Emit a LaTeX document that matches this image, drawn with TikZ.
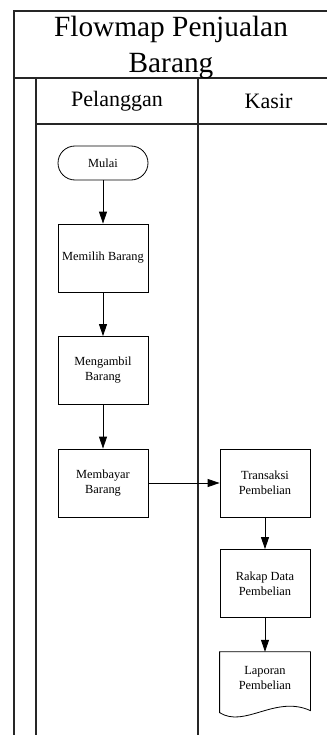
\documentclass[tikz,border=0pt]{standalone}
\usepackage{fontspec}
\setmainfont{Liberation Serif}
\usetikzlibrary{arrows.meta,calc}
\begin{document}
\begin{tikzpicture}[x=0.75pt,y=-0.75pt,
  lane/.style={line width=1.1pt, draw=black!85},
  proc/.style={draw, line width=0.6pt, minimum width=67.5pt, minimum height=51pt,
    inner sep=1pt, align=center, font=\fontsize{9.3}{11.25}\selectfont},
  term/.style={proc, minimum height=25.5pt, rounded corners=12.75pt},
  docbox/.style={proc, draw=none, minimum height=38.25pt},
  flow/.style={-{Triangle[length=9pt,width=6pt]}, line width=0.6pt},
  lanehead/.style={font=\fontsize{16.5}{19}\selectfont, inner sep=0pt},
  titletext/.style={font=\fontsize{22}{26.3}\selectfont, align=center, inner sep=0pt}]
\useasboundingbox (0,0) rectangle (327,735);
\clip (0,0) rectangle (327,735);

% swimlane frame
\draw[lane] (14,745) -- (14,11) -- (345,11);
\draw[lane] (14,78) -- (345,78);
\draw[lane] (36,745) -- (36,78);
\draw[lane] (36,124) -- (345,124);
\draw[lane] (198,745) -- (198,78);

% titles
\node[titletext] (title) at (171,47.5) {Flowmap Penjualan\\Barang};
\node[lanehead] (hpel) at (117,101) {Pelanggan};
\node[lanehead] (hkas) at (268.5,101) {Kasir};

% Pelanggan lane
\node[term] (mulai) at (103,163) {Mulai};
\node[proc] (pilih) at (103,258) {Memilih Barang};
\node[proc] (ambil) at (103,370.5) {Mengambil\\Barang};
\node[proc] (bayar) at (103,483) {Membayar\\Barang};

% Kasir lane
\node[proc] (trans) at (265,483) {Transaksi\\Pembelian};
\node[proc] (rekap) at (265,583.5) {Rakap Data\\Pembelian};
\node[docbox] (lapor) at (265,677.7) {Laporan\\Pembelian};
\draw[line width=0.6pt] (lapor.north west) -- (lapor.north east)
  -- ($(lapor.south east)+(0,7)$)
  .. controls ($(lapor.south east)+(-35,-9)$) and ($(lapor.south west)+(25,25)$)
  .. ($(lapor.south west)+(0,9)$) -- cycle;

% connectors
\draw[flow] (mulai) -- (pilih);
\draw[flow] (pilih) -- (ambil);
\draw[flow] (ambil) -- (bayar);
\draw[flow] (bayar) -- (trans);
\draw[flow] (trans) -- (rekap);
\draw[flow] (rekap) -- (lapor);
\end{tikzpicture}
\end{document}
